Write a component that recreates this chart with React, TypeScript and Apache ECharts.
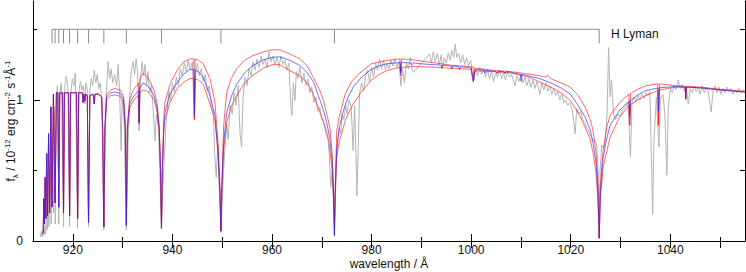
import React, { useEffect, useRef } from "react";
import * as echarts from "echarts";

const FONT = "'Liberation Sans', Arial, sans-serif";

const xTickLabels = [920, 940, 960, 980, 1000, 1020, 1040];
const xMinorTicks = [930, 950, 970, 990, 1010, 1030, 1050];
const yTickLabels = [0, 1];
const yMinorTicks = [0.5, 1.5];

// H Lyman series wavelengths (Å)
const lymanLines = [915.82, 916.43, 917.18, 918.13, 919.35, 920.96, 923.15, 926.23, 930.75, 937.8, 949.74, 972.54, 1025.72];
const lymanBarLevel = 1.5;
const lymanTickEnd = 1.4;

// model, series-limit part (common to all three models)
const seriesLimitModel = [
  [913.85, 0.05], [914.04, 0.06], [914.17, 0.3], [914.29, 0.12], [914.44, 0.45], [914.58, 0.16], [914.75, 0.62],
  [914.92, 0.18], [915.13, 0.76], [915.34, 0.2], [915.6, 0.95], [915.82, 0.24], [916.1, 1.04], [916.43, 0.27],
  [916.7, 1.05], [917.0, 1.05], [917.18, 0.24], [917.36, 1.05], [917.95, 1.05], [918.13, 0.2], [918.32, 1.05],
  [919.15, 1.05], [919.35, 0.18], [919.55, 1.05], [920.75, 1.05], [920.96, 0.16], [921.18, 1.05], [921.9, 1.05],
  [922.05, 0.98], [922.2, 1.04], [922.4, 0.99], [922.55, 1.04], [922.9, 1.03], [923.15, 0.13], [923.42, 1.03],
  [924.1, 1.04], [924.3, 0.97], [924.45, 1.04], [925.2, 1.04], [925.8, 1.02],
];

const blueModelTail = [
  [926.0, 0.8], [926.23, 0.1], [926.45, 0.8], [926.8, 1.02], [927.6, 1.05], [928.5, 1.055], [929.5, 1.045],
  [930.2, 1.0], [930.55, 0.8], [930.75, 0.11], [930.95, 0.8], [931.4, 0.97], [932.1, 1.02], [932.8, 1.05],
  [933.2, 1.06], [933.32, 0.84], [933.45, 1.08], [934.1, 1.12], [935.0, 1.1], [935.5, 1.078], [936.3, 1.03],
  [936.9, 0.95], [937.35, 0.8], [937.62, 0.5], [937.8, 0.09], [937.98, 0.5], [938.25, 0.8], [938.5, 0.91],
  [939.5, 1.04], [940.9, 1.12], [942.2, 1.18], [943.5, 1.215], [944.3, 1.215], [944.42, 0.89], [944.55, 1.21],
  [945.2, 1.2], [946.2, 1.16], [947.55, 1.03], [948.55, 0.89], [949.2, 0.62], [949.55, 0.35], [949.74, 0.07],
  [949.95, 0.4], [950.3, 0.7], [950.9, 0.91], [951.8, 1.02], [952.9, 1.11], [954.5, 1.19], [956.0, 1.24],
  [958.3, 1.285], [960.0, 1.3], [961.5, 1.305], [963.6, 1.28], [965.6, 1.243], [967.0, 1.195], [968.3, 1.13],
  [969.6, 1.0], [970.3, 0.93], [971.0, 0.84], [971.65, 0.72], [972.1, 0.55], [972.38, 0.3], [972.54, 0.04],
  [972.7, 0.35], [973.0, 0.66], [973.5, 0.8], [974.3, 0.92], [975.3, 1.02], [976.3, 1.09], [978.0, 1.16],
  [979.7, 1.21], [981.5, 1.24], [983.0, 1.255], [985.7, 1.264], [985.85, 1.19], [986.0, 1.264], [987.5, 1.262],
  [988.2, 1.25], [988.4, 1.262], [990.0, 1.255], [992.0, 1.25], [994.0, 1.245], [994.1, 1.225], [994.3, 1.245],
  [996.0, 1.24], [996.1, 1.22], [996.3, 1.24], [997.5, 1.235], [997.7, 1.215], [997.9, 1.235], [1000.0, 1.225],
  [1000.3, 1.15], [1000.45, 1.13], [1000.7, 1.2], [1001.0, 1.215], [1002.6, 1.21], [1002.8, 1.19], [1003.0, 1.21],
  [1005.0, 1.2], [1005.2, 1.185], [1005.4, 1.2], [1006.6, 1.2], [1006.8, 1.185], [1007.0, 1.2], [1008.0, 1.195],
  [1009.9, 1.18], [1010.05, 1.13], [1010.2, 1.18], [1012.0, 1.165], [1013.8, 1.15], [1016.0, 1.12], [1018.0, 1.085],
  [1019.9, 1.042], [1021.5, 0.96], [1022.9, 0.877], [1023.9, 0.79], [1024.5, 0.69], [1025.1, 0.55], [1025.45, 0.35],
  [1025.72, 0.02], [1025.95, 0.35], [1026.5, 0.59], [1027.2, 0.72], [1027.9, 0.82], [1029.8, 0.925], [1031.7, 0.99],
  [1031.85, 0.89], [1032.0, 0.995], [1033.5, 1.035], [1035.1, 1.066], [1037.5, 1.083], [1037.62, 0.92],
  [1037.8, 1.085], [1041.1, 1.094], [1043.0, 1.09], [1043.1, 1.01], [1043.25, 1.09], [1046.0, 1.085],
  [1050.0, 1.07], [1055.0, 1.055],
];

const redUpperTail = [
  [926.0, 0.8], [926.23, 0.1], [926.45, 0.8], [926.8, 1.04], [927.6, 1.07], [928.5, 1.08], [929.5, 1.07],
  [930.2, 1.02], [930.55, 0.82], [930.75, 0.11], [930.95, 0.82], [931.4, 1.0], [932.1, 1.07], [932.8, 1.1],
  [933.2, 1.12], [933.32, 0.84], [933.45, 1.15], [934.1, 1.19], [935.0, 1.16], [935.5, 1.13], [936.3, 1.07],
  [936.9, 0.98], [937.35, 0.82], [937.62, 0.5], [937.8, 0.09], [937.98, 0.5], [938.25, 0.86], [938.5, 0.98],
  [939.5, 1.11], [940.9, 1.207], [942.2, 1.266], [943.5, 1.29], [944.3, 1.29], [944.42, 0.86], [944.55, 1.29],
  [945.2, 1.28], [946.2, 1.255], [947.55, 1.149], [948.55, 0.983], [949.2, 0.68], [949.55, 0.38], [949.74, 0.07],
  [949.95, 0.45], [950.3, 0.82], [950.9, 1.05], [951.8, 1.15], [952.9, 1.22], [954.5, 1.28], [956.0, 1.31],
  [958.3, 1.34], [960.0, 1.354], [961.5, 1.354], [963.6, 1.325], [965.6, 1.29], [967.0, 1.243], [968.3, 1.16],
  [969.6, 1.066], [970.3, 1.0], [971.0, 0.9], [971.65, 0.8], [972.1, 0.62], [972.38, 0.35], [972.54, 0.04],
  [972.7, 0.4], [973.0, 0.78], [973.5, 0.88], [974.7, 1.04], [976.0, 1.13], [977.3, 1.18], [979.9, 1.255],
  [983.3, 1.28], [985.7, 1.29], [985.85, 1.2], [986.0, 1.29], [988.0, 1.285], [990.0, 1.275], [992.0, 1.265],
  [994.0, 1.255], [996.0, 1.245], [998.0, 1.24], [1000.0, 1.235], [1000.4, 1.16], [1000.7, 1.225],
  [1002.0, 1.22], [1004.0, 1.21], [1006.0, 1.205], [1008.0, 1.2], [1010.0, 1.19], [1012.0, 1.18],
  [1013.8, 1.17], [1015.0, 1.16], [1015.3, 1.175], [1016.0, 1.15], [1018.0, 1.12], [1019.9, 1.09],
  [1021.5, 1.03], [1022.9, 0.948], [1023.9, 0.86], [1024.5, 0.78], [1025.1, 0.62], [1025.45, 0.4], [1025.72, 0.02],
  [1025.95, 0.4], [1026.5, 0.64], [1027.2, 0.8], [1027.9, 0.89], [1029.8, 0.98], [1031.7, 1.04], [1031.85, 0.82],
  [1032.0, 1.045], [1033.5, 1.075], [1035.1, 1.1], [1037.5, 1.113], [1037.62, 0.82], [1037.8, 1.113],
  [1041.1, 1.1], [1043.0, 1.095], [1043.1, 1.01], [1043.25, 1.095], [1046.0, 1.09], [1050.0, 1.075], [1055.0, 1.06],
];

const redLowerTail = [
  [926.0, 0.78], [926.23, 0.1], [926.45, 0.78], [926.8, 1.0], [927.6, 1.03], [928.5, 1.035], [929.5, 1.025],
  [930.2, 0.98], [930.55, 0.78], [930.75, 0.11], [930.95, 0.78], [931.4, 0.94], [932.1, 0.99], [932.8, 1.02],
  [933.2, 1.03], [933.32, 0.83], [933.45, 1.05], [934.1, 1.07], [935.0, 1.06], [935.5, 1.04], [936.3, 1.0],
  [936.9, 0.92], [937.35, 0.78], [937.62, 0.5], [937.8, 0.09], [937.98, 0.5], [938.25, 0.76], [938.5, 0.86],
  [939.5, 0.98], [940.9, 1.078], [942.2, 1.124], [943.5, 1.15], [944.3, 1.153], [944.42, 0.87], [944.55, 1.15],
  [945.2, 1.14], [946.2, 1.11], [947.55, 0.97], [948.55, 0.854], [949.2, 0.6], [949.55, 0.33], [949.74, 0.07],
  [949.95, 0.38], [950.3, 0.65], [950.9, 0.84], [951.8, 0.95], [952.9, 1.03], [954.5, 1.12], [956.0, 1.17],
  [958.3, 1.225], [960.0, 1.248], [961.5, 1.25], [963.6, 1.206], [965.6, 1.17], [967.0, 1.124], [968.3, 1.04],
  [969.6, 0.912], [970.3, 0.85], [971.0, 0.77], [971.4, 0.71], [972.1, 0.5], [972.38, 0.28], [972.54, 0.04],
  [972.7, 0.3], [973.0, 0.6], [973.5, 0.7], [974.3, 0.8], [974.7, 0.853], [975.3, 0.9], [976.3, 0.97],
  [977.3, 1.02], [978.0, 1.06], [979.9, 1.137], [981.5, 1.18], [983.3, 1.21], [985.7, 1.23], [985.85, 1.17],
  [986.0, 1.23], [988.0, 1.235], [990.0, 1.235], [992.0, 1.232], [994.0, 1.228], [996.0, 1.224], [998.0, 1.22],
  [1000.0, 1.215], [1000.4, 1.13], [1000.7, 1.205], [1002.0, 1.205], [1004.0, 1.2], [1006.0, 1.195],
  [1008.0, 1.19], [1010.0, 1.175], [1012.0, 1.155], [1013.8, 1.125], [1016.0, 1.09], [1018.0, 1.05],
  [1019.9, 0.995], [1021.5, 0.91], [1022.9, 0.806], [1023.9, 0.72], [1024.5, 0.62], [1025.1, 0.48], [1025.45, 0.3],
  [1025.72, 0.02], [1025.95, 0.3], [1026.5, 0.52], [1027.2, 0.63], [1027.9, 0.735], [1029.8, 0.877],
  [1031.7, 0.96], [1031.85, 0.82], [1032.0, 0.965], [1033.5, 1.0], [1035.1, 1.03], [1037.5, 1.066],
  [1037.62, 0.82], [1037.8, 1.07], [1041.1, 1.09], [1043.0, 1.09], [1043.1, 1.0], [1043.25, 1.09],
  [1046.0, 1.085], [1050.0, 1.07], [1055.0, 1.055],
];

// observed spectrum (grey)
const observed = [
  [913.4, 0.06], [913.6, 0.03], [913.8, 0.07], [913.95, 0.03], [914.1, 0.09], [914.25, 0.04], [914.4, 0.11],
  [914.55, 0.05], [914.7, 0.2], [914.85, 0.08], [915.0, 0.35], [915.2, 0.1], [915.45, 0.55], [915.65, 0.12],
  [915.9, 0.72], [916.1, 0.2], [916.3, 0.95], [916.45, 0.12], [916.7, 1.0], [916.9, 1.1], [917.18, 0.12],
  [917.4, 1.05], [917.7, 1.12], [918.13, 0.1], [918.4, 1.1], [918.7, 1.17], [919.0, 1.08], [919.35, 0.1],
  [919.6, 1.05], [919.9, 1.15], [920.2, 1.1], [920.5, 1.19], [920.96, 0.09], [921.2, 1.05], [921.5, 1.13],
  [921.8, 1.07], [922.1, 1.1], [922.4, 0.97], [922.6, 1.12], [922.9, 1.08], [923.15, 0.1], [923.4, 1.06],
  [923.7, 1.15], [924.0, 1.1], [924.3, 1.21], [924.6, 1.12], [924.9, 1.18], [925.2, 1.08], [925.5, 1.12],
  [925.8, 1.0], [926.23, 0.08], [926.5, 0.9], [926.8, 1.1], [927.1, 1.27], [927.4, 1.15], [927.7, 1.22],
  [928.0, 1.12], [928.4, 1.18], [928.8, 1.1], [929.1, 1.25], [929.4, 1.05], [929.7, 0.64], [929.9, 1.0],
  [930.3, 0.85], [930.75, 0.08], [931.1, 0.7], [931.4, 1.0], [931.7, 1.2], [932.1, 1.27], [932.4, 1.18],
  [932.7, 1.29], [933.0, 1.2], [933.3, 0.78], [933.6, 1.15], [933.9, 1.27], [934.2, 1.17], [934.5, 1.25],
  [934.8, 1.1], [935.1, 1.2], [935.4, 1.05], [935.8, 1.1], [936.1, 0.95], [936.5, 0.71], [936.8, 0.9],
  [937.2, 0.8], [937.5, 0.45], [937.8, 0.1], [938.1, 0.4], [938.4, 0.62], [938.7, 0.82], [939.0, 0.95],
  [939.3, 1.06], [939.6, 0.99], [940.0, 1.12], [940.4, 1.06], [940.8, 1.16], [941.2, 1.1], [941.6, 1.22],
  [942.0, 1.17], [942.4, 1.26], [942.8, 1.2], [943.2, 1.28], [943.6, 1.21], [944.0, 1.27], [944.4, 0.86],
  [944.7, 1.2], [945.0, 1.26], [945.4, 1.17], [945.8, 1.22], [946.2, 1.13], [946.6, 1.18], [947.0, 1.06],
  [947.4, 1.1], [947.8, 0.95], [948.2, 0.92], [948.5, 0.62], [948.8, 0.45], [949.1, 0.68], [949.4, 0.38],
  [949.74, 0.06], [950.1, 0.38], [950.5, 0.64], [950.9, 0.82], [951.2, 0.72], [951.6, 0.96], [952.0, 0.9],
  [952.4, 1.05], [952.8, 0.96], [953.2, 1.1], [953.6, 0.75], [953.9, 0.665], [954.2, 1.02], [954.6, 1.16],
  [955.0, 1.1], [955.4, 1.22], [955.8, 1.17], [956.2, 1.27], [956.6, 1.21], [957.0, 1.29], [957.4, 1.23],
  [957.8, 1.31], [958.2, 1.25], [958.6, 1.29], [959.0, 1.23], [959.4, 1.34], [959.8, 1.27], [960.2, 1.31],
  [960.6, 1.25], [961.0, 1.3], [961.4, 1.23], [961.8, 1.31], [962.2, 1.25], [962.6, 1.28], [963.0, 1.21],
  [963.4, 1.26], [963.8, 0.95], [964.0, 0.89], [964.3, 1.12], [964.6, 0.995], [964.9, 1.2], [965.2, 1.15],
  [965.6, 1.23], [966.0, 1.12], [966.4, 1.19], [966.8, 1.1], [967.2, 1.15], [967.6, 1.05], [968.0, 1.09],
  [968.4, 0.98], [968.8, 1.02], [969.2, 0.92], [969.6, 0.95], [970.0, 0.86], [970.4, 0.84], [970.8, 0.76],
  [971.2, 0.73], [971.5, 0.62], [971.8, 0.38], [972.1, 0.5], [972.4, 0.2], [972.54, 0.12], [972.7, 0.3],
  [972.9, 0.55], [973.2, 0.7], [973.5, 0.8], [973.8, 0.76], [974.1, 0.9], [974.4, 0.86], [974.8, 0.96],
  [975.1, 0.9], [975.5, 1.0], [975.9, 0.95], [976.3, 0.64], [976.6, 0.96], [976.9, 0.55], [977.05, 0.32],
  [977.3, 0.65], [977.6, 1.05], [978.0, 1.12], [978.4, 1.06], [978.8, 1.17], [979.2, 1.21], [979.6, 1.13],
  [980.0, 1.23], [980.4, 1.16], [980.8, 1.26], [981.2, 1.21], [981.6, 1.29], [982.0, 1.22], [982.4, 1.28],
  [982.8, 1.21], [983.1, 1.26], [983.5, 1.22], [983.9, 1.28], [984.3, 1.24], [984.7, 1.29], [985.1, 1.23],
  [985.5, 1.27], [985.9, 1.1], [986.2, 1.22], [986.6, 1.12], [987.0, 1.26], [987.4, 1.22], [987.8, 1.3],
  [988.1, 1.22], [988.4, 1.195], [991.7, 1.325], [992.0, 1.26], [992.4, 1.34], [992.8, 1.27], [993.2, 1.33],
  [993.6, 1.25], [994.0, 1.32], [994.2, 1.22], [994.6, 1.3], [995.0, 1.26], [995.4, 1.33], [995.8, 1.28],
  [996.1, 1.35], [996.5, 1.3], [996.8, 1.396], [997.1, 1.3], [997.5, 1.33], [997.9, 1.26], [998.3, 1.32],
  [998.7, 1.25], [999.1, 1.3], [999.5, 1.24], [999.9, 1.28], [1000.2, 1.22], [1000.4, 1.24], [1000.6, 1.14],
  [1000.9, 1.22], [1001.3, 1.17], [1001.7, 1.23], [1002.1, 1.18], [1002.5, 1.22], [1002.9, 1.16], [1003.3, 1.21],
  [1003.7, 1.15], [1004.1, 1.2], [1004.5, 1.13], [1004.9, 1.19], [1005.3, 1.16], [1005.7, 1.21], [1006.1, 1.15],
  [1006.5, 1.19], [1006.9, 1.14], [1007.3, 1.2], [1007.7, 1.16], [1008.1, 1.18], [1008.8, 1.1], [1009.2, 1.17],
  [1009.6, 1.13], [1010.0, 1.18], [1010.4, 1.12], [1010.8, 1.16], [1011.2, 1.1], [1011.6, 1.15], [1012.0, 1.09],
  [1012.4, 1.14], [1012.8, 1.08], [1013.2, 1.13], [1013.8, 1.04], [1014.2, 1.12], [1014.6, 1.07], [1015.0, 1.12],
  [1015.4, 1.06], [1015.8, 1.1], [1016.2, 1.04], [1016.6, 1.08], [1017.0, 1.03], [1017.4, 1.06], [1017.8, 1.0],
  [1018.2, 1.04], [1018.6, 0.98], [1019.0, 1.0], [1019.4, 0.96], [1019.8, 0.98], [1020.3, 0.93], [1020.9, 0.76],
  [1021.2, 0.94], [1021.6, 0.9], [1022.0, 0.92], [1022.4, 0.86], [1022.8, 0.84], [1023.2, 0.8], [1023.6, 0.78],
  [1024.0, 0.74], [1024.4, 0.72], [1024.8, 0.7], [1025.2, 0.69], [1025.5, 0.5], [1025.72, 0.17], [1025.9, 0.5],
  [1026.2, 0.68], [1026.6, 0.66], [1026.9, 0.7], [1027.3, 0.9], [1027.6, 1.37], [1027.9, 1.02], [1028.2, 1.14],
  [1028.6, 0.9], [1029.0, 0.86], [1029.5, 0.9], [1030.0, 0.88], [1030.5, 0.93], [1031.0, 0.95], [1031.5, 0.98],
  [1032.0, 0.594], [1032.3, 0.98], [1032.7, 1.02], [1033.1, 0.99], [1033.5, 1.03], [1033.9, 1.0], [1034.3, 1.04],
  [1034.7, 1.01], [1035.1, 1.05], [1035.5, 1.03], [1035.9, 1.06], [1036.2, 0.6], [1036.45, 0.19], [1036.7, 0.7],
  [1037.2, 1.02], [1037.7, 0.665], [1038.0, 1.0], [1038.5, 1.04], [1038.9, 0.9], [1039.3, 0.465], [1039.6, 0.95],
  [1040.0, 1.08], [1040.4, 1.05], [1040.8, 1.1], [1041.2, 1.07], [1041.6, 1.14], [1042.0, 1.08], [1042.4, 1.11],
  [1042.8, 1.06], [1043.2, 1.1], [1043.6, 0.97], [1044.0, 1.08], [1044.4, 1.05], [1044.8, 1.1], [1045.2, 1.06],
  [1045.6, 1.09], [1046.0, 1.04], [1046.4, 1.1], [1046.8, 1.05], [1047.2, 1.09], [1047.6, 1.06], [1048.2, 0.913],
  [1048.6, 1.07], [1049.0, 1.1], [1049.4, 1.05], [1049.8, 1.09], [1050.2, 1.04], [1050.6, 1.08], [1051.0, 1.05],
  [1051.4, 1.09], [1051.8, 1.06], [1052.2, 1.08], [1052.6, 1.04], [1053.0, 1.07], [1053.4, 1.05], [1053.8, 1.08],
  [1054.2, 1.05], [1054.6, 1.07], [1055.0, 1.06],
];

const X_MIN = 912;
const X_MAX = 1055;
const Y_MIN = 0;
const Y_MAX = 1.7;

export default function App() {
  const ref = useRef<HTMLDivElement | null>(null);

  useEffect(() => {
    if (!ref.current) return;
    const chart = echarts.init(ref.current, undefined, { renderer: "svg" });

    const blueModel = [...seriesLimitModel, ...blueModelTail];
    const redUpper = [...seriesLimitModel, ...redUpperTail];
    const redLower = [...seriesLimitModel, ...redLowerTail];

    const textBase = { fontFamily: FONT, fontSize: 12, color: "#111" };
    const axisBlack = { color: "#000", width: 1 };
    const plain = (v: number) => String(v);

    const xCommon = { type: "value", min: X_MIN, max: X_MAX, splitLine: { show: false } };
    const yCommon = { type: "value", min: Y_MIN, max: Y_MAX, splitLine: { show: false } };

    const lineSeries = (name: string, data: number[][], color: string, width: number, opacity: number, z: number) => ({
      name,
      type: "line",
      data,
      xAxisIndex: 0,
      yAxisIndex: 0,
      showSymbol: false,
      symbol: "none",
      silent: true,
      z,
      lineStyle: { color, width, opacity },
    });

    chart.setOption({
      animation: false,
      grid: { left: 33, right: 1, top: 1, bottom: 31, containLabel: false, outerBoundsMode: "none" },
      xAxis: [
        {
          ...xCommon,
          position: "bottom",
          axisLine: { show: true, lineStyle: axisBlack },
          axisTick: { show: true, inside: true, length: 7, customValues: xTickLabels, lineStyle: axisBlack },
          axisLabel: { show: true, customValues: xTickLabels, margin: 3, lineHeight: 12, formatter: plain, ...textBase },
          name: "wavelength / Å",
          nameLocation: "middle",
          nameGap: 16,
          nameMoveOverlap: false,
          nameTextStyle: { ...textBase, lineHeight: 13, verticalAlign: "top" },
        },
        {
          ...xCommon,
          position: "bottom",
          axisLine: { show: false },
          axisTick: { show: true, inside: true, length: 4, customValues: xMinorTicks, lineStyle: axisBlack },
          axisLabel: { show: false },
        },
        {
          ...xCommon,
          position: "top",
          axisLine: { show: true, lineStyle: axisBlack },
          axisTick: { show: true, inside: true, length: 7, customValues: [...xTickLabels, ...xMinorTicks], lineStyle: axisBlack },
          axisLabel: { show: false },
        },
      ],
      yAxis: [
        {
          ...yCommon,
          position: "left",
          axisLine: { show: true, lineStyle: axisBlack },
          axisTick: { show: true, inside: true, length: 7, customValues: yTickLabels, lineStyle: axisBlack },
          axisLabel: { show: true, customValues: yTickLabels, margin: 10, formatter: plain, ...textBase },
          name: "{t|f}{sub|λ}{t| / 10}{sup|-12}{t| erg cm}{sup|-2}{t| s}{sup|-1}{t|Å}{sup|-1}",
          nameLocation: "middle",
          nameRotate: 90,
          nameGap: 14,
          nameMoveOverlap: false,
          nameTextStyle: {
            ...textBase,
            rich: {
              t: { fontFamily: FONT, fontSize: 12, color: "#111", lineHeight: 16, verticalAlign: "middle" },
              sup: { fontFamily: FONT, fontSize: 8, color: "#111", lineHeight: 8, verticalAlign: "top" },
              sub: { fontFamily: FONT, fontSize: 8, color: "#111", lineHeight: 8, verticalAlign: "bottom" },
            },
          },
        },
        {
          ...yCommon,
          position: "left",
          axisLine: { show: false },
          axisTick: { show: true, inside: true, length: 4, customValues: yMinorTicks, lineStyle: axisBlack },
          axisLabel: { show: false },
        },
        {
          ...yCommon,
          position: "right",
          axisLine: { show: true, lineStyle: axisBlack },
          axisTick: { show: true, inside: true, length: 5, customValues: [...yTickLabels, ...yMinorTicks], lineStyle: axisBlack },
          axisLabel: { show: false },
        },
      ],
      graphic: [
        {
          type: "text",
          left: 611,
          top: 28,
          silent: true,
          style: { text: "H Lyman", fontFamily: FONT, fontSize: 12, fill: "#111" },
        },
      ],
      series: [
        lineSeries("observed", observed, "#b4b4b4", 1, 1, 1),
        lineSeries("model high", redUpper, "#ff2020", 0.9, 0.75, 2),
        lineSeries("model low", redLower, "#ff2020", 0.9, 0.75, 3),
        lineSeries("model", blueModel, "#2020ff", 0.9, 0.7, 4),
        {
          name: "H Lyman bar",
          type: "line",
          data: [
            [lymanLines[0], lymanBarLevel],
            [lymanLines[lymanLines.length - 1], lymanBarLevel],
          ],
          xAxisIndex: 0,
          yAxisIndex: 0,
          showSymbol: false,
          symbol: "none",
          silent: true,
          lineStyle: { color: "#8c8c8c", width: 1 },
        },
        {
          name: "H Lyman ticks",
          type: "custom",
          xAxisIndex: 0,
          yAxisIndex: 0,
          silent: true,
          data: lymanLines.map((l) => [l, lymanBarLevel, lymanTickEnd]),
          encode: { x: 0, y: [1, 2] },
          renderItem: (_params: any, api: any) => {
            const p1 = api.coord([api.value(0), api.value(1)]);
            const p2 = api.coord([api.value(0), api.value(2)]);
            return {
              type: "line",
              shape: { x1: p1[0], y1: p1[1], x2: p2[0], y2: p2[1] },
              style: { stroke: "#8c8c8c", lineWidth: 1 },
            };
          },
        },
      ],
    });

    return () => chart.dispose();
  }, []);

  return (
    <div
      ref={ref}
      style={{ position: "fixed", left: 0, top: 0, width: 746, height: 272, background: "#fff" }}
    />
  );
}
